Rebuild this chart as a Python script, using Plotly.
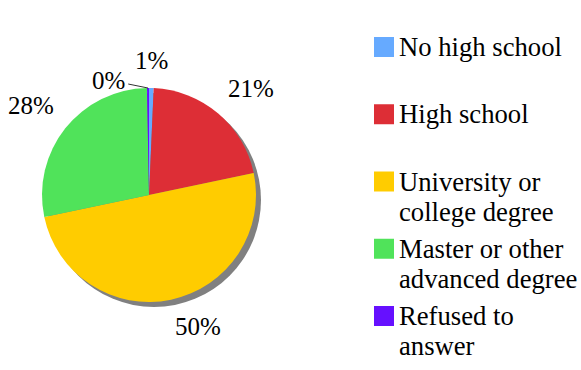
import math
import textwrap
import plotly.graph_objects as go

# Highest education level reached (share of respondents, %)
categories = [
    "No high school",
    "High school",
    "University or college degree",
    "Master or other advanced degree",
    "Refused to answer",
]
shares = [0.7, 21.0, 50.0, 28.0, 0.3]
colors = ["#66AAFF", "#DD2E36", "#FFCC00", "#50E35A", "#6610FF"]

W, H = 581, 370
FONT = "Liberation Serif"
LABEL_SIZE = 25
LEGEND_SIZE = 26.67

# pie placement in pixels
cx, cy, r = 149, 195, 107
shadow_dx, shadow_dy = 5, 5


def px_x(x):
    return x / W


def px_y(y):
    return 1 - y / H


fig = go.Figure()

fig.add_trace(
    go.Pie(
        labels=categories,
        values=shares,
        marker=dict(colors=colors, line=dict(width=0)),
        sort=False,
        direction="clockwise",
        rotation=0,
        textinfo="none",
        domain=dict(x=[px_x(cx - r), px_x(cx + r)], y=[px_y(cy + r), px_y(cy - r)]),
        showlegend=False,
        hoverinfo="label+percent",
    )
)

# drop shadow behind the pie
shapes = [
    dict(
        type="circle", xref="paper", yref="paper", layer="below",
        x0=px_x(cx - r + shadow_dx), x1=px_x(cx + r + shadow_dx),
        y0=px_y(cy + r + shadow_dy), y1=px_y(cy - r + shadow_dy),
        fillcolor="#808080", line=dict(width=0),
    )
]
annotations = []

# percentage labels outside each slice, pushed sideways with a leader line on collision
total = sum(shares)
gap, pad = 12, 10
placed = []
cum = 0.0
for v in shares:
    pct = v / total * 100
    mid = math.radians((cum + pct / 2) / 100 * 360)
    cum += pct
    s, c = math.sin(mid), math.cos(mid)
    text = f"{pct:.0f}%"
    w = LABEL_SIZE * (0.5 * (len(text) - 1) + 0.833)
    h = LABEL_SIZE * 1.0
    axp, ayp = cx + (r + gap) * s, cy - (r + gap) * c
    xa = "left" if s > 0.1 else "right" if s < -0.1 else "center"
    ya = "bottom" if c > 0 else "top"
    bx0 = axp if xa == "left" else axp - w if xa == "right" else axp - w / 2
    by0 = ayp - h if ya == "bottom" else ayp
    box = (bx0, by0, bx0 + w, by0 + h)
    hit = next(
        (b for b in placed
         if box[0] < b[2] and box[2] > b[0] and box[1] < b[3] and box[3] > b[1]),
        None,
    )
    if hit is None:
        placed.append(box)
        annotations.append(dict(
            text=text, xref="paper", yref="paper", x=px_x(axp), y=px_y(ayp),
            xanchor=xa, yanchor=ya, showarrow=False,
            font=dict(family=FONT, size=LABEL_SIZE, color="#000000"),
        ))
    else:
        ex, ey = cx + r * s, cy - r * c
        if s <= 0:
            tx = hit[0] - pad - w / 2
        else:
            tx = hit[2] + pad + w / 2
        ty = ey - 8
        placed.append((tx - w / 2, ty - h / 2, tx + w / 2, ty + h / 2))
        annotations.append(dict(
            text=text, xref="paper", yref="paper", x=px_x(ex), y=px_y(ey),
            ax=tx - ex, ay=ty - ey, showarrow=True, arrowhead=0,
            arrowwidth=1, arrowcolor="#333333", standoff=0, startstandoff=2,
            font=dict(family=FONT, size=LABEL_SIZE, color="#000000"),
        ))

# legend on the right: swatch + wrapped label per category
leg_x, sw, slot, first_y, line_h = 374, 20, 67.25, 47, 30
for i, (name, col) in enumerate(zip(categories, colors)):
    yc = first_y + i * slot
    shapes.append(
        dict(
            type="rect", xref="paper", yref="paper",
            x0=px_x(leg_x), x1=px_x(leg_x + sw),
            y0=px_y(yc + sw / 2), y1=px_y(yc - sw / 2),
            fillcolor=col, line=dict(width=0),
        )
    )
    for j, line in enumerate(textwrap.wrap(name, width=16)):
        annotations.append(
            dict(
                text=line, xref="paper", yref="paper",
                x=px_x(leg_x + sw + 3), y=px_y(yc + j * line_h),
                xanchor="left", yanchor="middle", showarrow=False,
                font=dict(family=FONT, size=LEGEND_SIZE, color="#000000"),
            )
        )

fig.update_layout(
    width=W, height=H,
    margin=dict(l=0, r=0, t=0, b=0),
    font=dict(family=FONT, color="#000000"),
    paper_bgcolor="white", plot_bgcolor="white",
    shapes=shapes, annotations=annotations,
    showlegend=False,
)

fig.write_html("out.html")
